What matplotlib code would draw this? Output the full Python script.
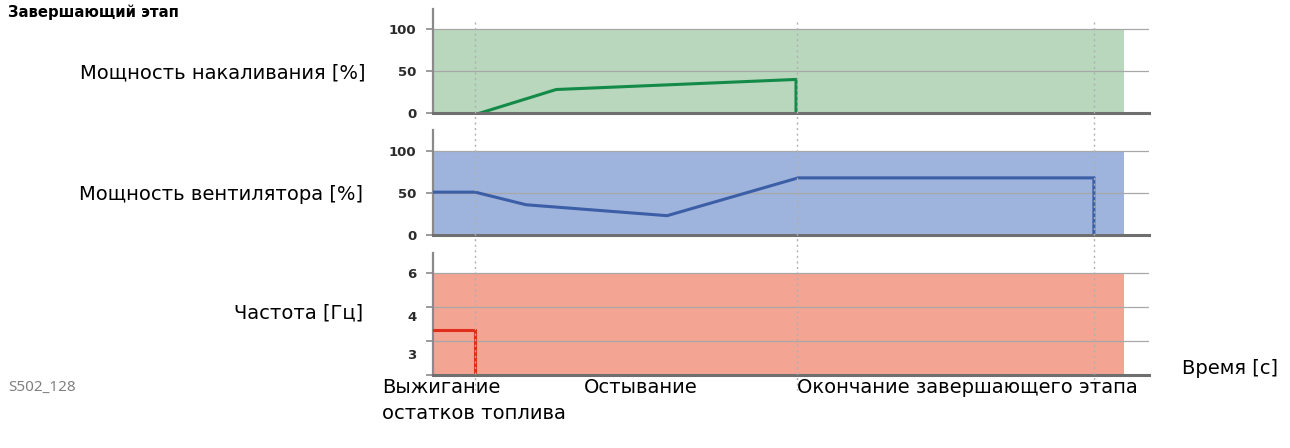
import numpy as np
import matplotlib.pyplot as plt
from matplotlib.lines import Line2D
from matplotlib.transforms import blended_transform_factory

plt.rcParams['font.family'] = ['DejaVu Sans']

# time axis (arbitrary units, 0 = start of the phase)
event_times = [5.9, 50.8, 92.3]
fill_end = 96.5
x_max = 100

# glow plug power [%]
glow_t = [6.6, 17.2, 50.7, 50.7]
glow_v = [0, 28, 40, 0]

# fan power [%]
fan_t = [0, 5.9, 13.0, 32.7, 51.0, 92.3, 92.3]
fan_v = [51, 51, 36, 23, 68, 68, 0]

# frequency panel: grid lines and labels (schematic scale)
freq_grid = [0, 1, 2, 3]
freq_grid_labels = ['', '', '', '6']
freq_label_pos = [0.62, 1.74]
freq_labels = ['3', '4']
freq_t = [0, 5.9, 5.9]
freq_v = [1.32, 1.32, 0]

fig = plt.figure(figsize=(12.9, 4.48), dpi=100)
W, H = 1290, 448
left = 433 / W
width = (1149 - 433) / W

def make_ax(top_px, bottom_px):
    return fig.add_axes([left, 1 - bottom_px / H, width, (bottom_px - top_px) / H])

ax1 = make_ax(9, 113)
ax2 = make_ax(130, 235)
ax3 = make_ax(253, 375)

panels = [
    (ax1, 124, [0, 50, 100], ['0', '50', '100'], 100, '#b8d7bd', glow_t, glow_v, '#138a47'),
    (ax2, 125, [0, 50, 100], ['0', '50', '100'], 100, '#9eb4dc', fan_t, fan_v, '#3b5ea6'),
    (ax3, 3.6, freq_grid, freq_grid_labels, 3, '#f4a493', freq_t, freq_v, '#e02e1c'),
]

for ax, ytop, ticks, labels, fill_top, fcol, t, v, lcol in panels:
    ax.set_xlim(0, x_max)
    ax.set_ylim(0, ytop)
    ax.fill_between([0, fill_end], 0, fill_top, color=fcol, lw=0, zorder=1)
    for g in ticks[1:]:
        ax.axhline(g, color='#a8a8a8', lw=0.9, zorder=2)
    ax.plot(t, v, color=lcol, lw=2.2, zorder=4, solid_joinstyle='miter')
    for s in ['top', 'right']:
        ax.spines[s].set_visible(False)
    ax.spines['left'].set_color('#8a8a8a')
    ax.spines['left'].set_linewidth(1.6)
    ax.spines['bottom'].set_color('#6f6f6f')
    ax.spines['bottom'].set_linewidth(2.2)
    ax.spines['bottom'].set_zorder(5)
    ax.set_xticks([])
    ax.set_yticks(ticks, labels, fontweight='bold')
    ax.tick_params(axis='y', length=5, width=1.2, color='#8a8a8a',
                   labelsize=9.5, labelcolor='#2b2b2b', pad=7)
    ax.patch.set_alpha(0)

ax3.set_yticks(freq_label_pos, freq_labels, minor=True, fontweight='bold')
ax3.tick_params(axis='y', which='minor', length=0, labelsize=9.5,
                labelcolor='#2b2b2b', pad=12)

# dotted event lines across all panels
trans = blended_transform_factory(ax1.transData, fig.transFigure)
for et in event_times:
    fig.add_artist(Line2D([et, et], [1 - 22 / H, 1 - 390 / H], transform=trans,
                          color='#b0b0b0', lw=1, ls=(0, (1.5, 2.5)), zorder=3))

txt = dict(fontsize=14, color='black')
fig.text(8 / W, 1 - 12 / H, 'Завершающий этап', fontsize=10.7, fontweight='bold',
         va='center', ha='left')
fig.text(365 / W, 1 - 73 / H, 'Мощность накаливания [%]', ha='right', va='center', **txt)
fig.text(363 / W, 1 - 194 / H, 'Мощность вентилятора [%]', ha='right', va='center', **txt)
fig.text(363 / W, 1 - 313 / H, 'Частота [Гц]', ha='right', va='center', **txt)
fig.text(1182 / W, 1 - 368 / H, 'Время [с]', ha='left', va='center', **txt)
fig.text(8 / W, 1 - 387 / H, 'S502_128', ha='left', va='center', fontsize=11,
         color='#808080', family=['Noto Sans', 'DejaVu Sans'])
fig.text(382 / W, 1 - 387 / H, 'Выжигание', ha='left', va='center', **txt)
fig.text(382 / W, 1 - 413 / H, 'остатков топлива', ha='left', va='center', **txt)
fig.text(584 / W, 1 - 387 / H, 'Остывание', ha='left', va='center', **txt)
fig.text(797 / W, 1 - 387 / H, 'Окончание завершающего этапа', ha='left', va='center', **txt)

fig.savefig('out.png', dpi=100)
